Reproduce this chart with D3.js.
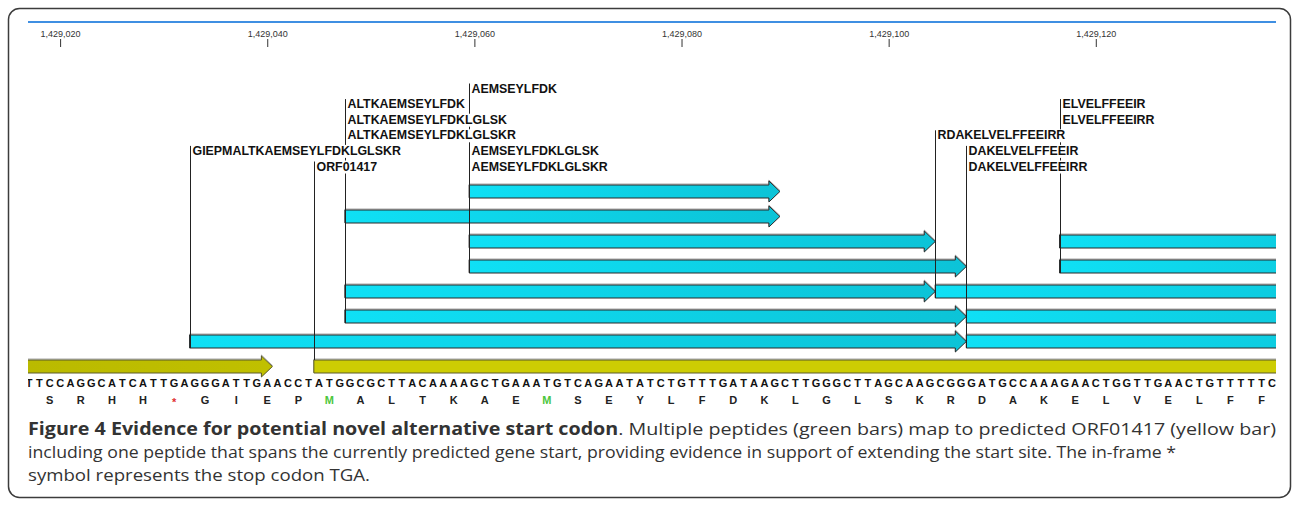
<!DOCTYPE html>
<html>
<head>
<meta charset="utf-8">
<script src="https://cdn.jsdelivr.net/npm/d3@7"></script>
<style>
  body { margin: 0; background: #fff; }
  svg { display: block; }
</style>
</head>
<body>
<svg id="chart" width="1292" height="505"></svg>
<script>
// ---- genomic window and ruler ----
const viewStart = 1429016.9;
const viewEnd = 1429137.4;
const tickValues = [1429020, 1429040, 1429060, 1429080, 1429100, 1429120];

// ---- nucleotide sequence (first base = seqStart) ----
const seqStart = 1429017;
const nucleotides = "TTCCAGGCATCATTGAGGGATTGAACCTATGGCGCTTACAAAAGCTGAAATGTCAGAATATCTGTTTGATAAGCTTGGGCTTAGCAAGCGGGATGCCAAAGAACTGGTTGAACTGTTTTTC";

// ---- translation in the ORF frame (first codon starts at frameStart) ----
const frameStart = 1429018;
const aminoAcids = ["S","R","H","H","*","G","I","E","P","M","A","L","T","K","A","E","M","S","E","Y",
                    "L","F","D","K","L","G","L","S","K","R","D","A","K","E","L","V","E","L","F","F"];

// ---- mapped peptides ----
const peptideNames = [
  "AEMSEYLFDK", "ALTKAEMSEYLFDK", "ALTKAEMSEYLFDKLGLSK", "ALTKAEMSEYLFDKLGLSKR",
  "AEMSEYLFDKLGLSK", "AEMSEYLFDKLGLSKR", "GIEPMALTKAEMSEYLFDKLGLSKR",
  "RDAKELVELFFEEIRR", "DAKELVELFFEEIR", "DAKELVELFFEEIRR", "ELVELFFEEIR", "ELVELFFEEIRR"
];
const peptideStarts = [1429060, 1429048, 1429048, 1429048, 1429060, 1429060, 1429033,
                       1429105, 1429108, 1429108, 1429117, 1429117];
const peptideEnds   = [1429089, 1429089, 1429104, 1429107, 1429104, 1429107, 1429107,
                       1429152, 1429149, 1429152, 1429149, 1429152];
const peptideTracks = [0, 1, 4, 5, 2, 3, 6, 4, 5, 6, 2, 3];
const peptideLabelRows = [0, 1, 2, 3, 4, 5, 4, 3, 4, 5, 1, 2];

// ---- gene models ----
const geneNames = ["", "ORF01417"];
const geneStarts = [1428990, 1429045];
const geneEnds = [1429040, 1429170];
const geneLabelRows = [-1, 5];

// ---- caption ----
const captionLines = [
  [["Figure 4 Evidence for potential novel alternative start codon", true],
   [". Multiple peptides (green bars) map to predicted ORF01417 (yellow bar)", false]],
  [["including one peptide that spans the currently predicted gene start, providing evidence in support of extending the start site. The in-frame *", false]],
  [["symbol represents the stop codon TGA.", false]]
];

// ================= drawing =================
const svg = d3.select("#chart");
const defs = svg.append("defs");

const left = 28, right = 1276;
const x = d3.scaleLinear().domain([viewStart, viewEnd]).range([left, right]);

// frame around figure and caption
svg.append("rect")
  .attr("x", 8.5).attr("y", 8.5).attr("width", 1282).attr("height", 489)
  .attr("rx", 11).attr("fill", "none").attr("stroke", "#3c3c3c").attr("stroke-width", 1.5);

defs.append("clipPath").attr("id", "track-clip")
  .append("rect").attr("x", left).attr("y", 0).attr("width", right - left).attr("height", 505);

const peptideGrad = defs.append("linearGradient").attr("id", "pep-grad")
  .attr("x1", 0).attr("x2", 1).attr("y1", 0).attr("y2", 0);
peptideGrad.append("stop").attr("offset", 0).attr("stop-color", "#0fe0f5");
peptideGrad.append("stop").attr("offset", 1).attr("stop-color", "#0cc3d7");

const upGrad = defs.append("linearGradient").attr("id", "up-grad")
  .attr("x1", 0).attr("x2", 1).attr("y1", 0).attr("y2", 0);
upGrad.append("stop").attr("offset", 0).attr("stop-color", "#b3b300");
upGrad.append("stop").attr("offset", 1).attr("stop-color", "#c0c000");

// ruler
svg.append("line")
  .attr("x1", left).attr("x2", right).attr("y1", 22).attr("y2", 22)
  .attr("stroke", "#3f8fe2").attr("stroke-width", 2);

const axis = d3.axisTop(x)
  .tickValues(tickValues)
  .tickFormat(d3.format(","))
  .tickSize(8)
  .tickSizeOuter(0)
  .tickPadding(2);
const axisG = svg.append("g").attr("transform", "translate(0,47)").call(axis);
axisG.select(".domain").remove();
axisG.selectAll(".tick line").attr("stroke", "#333");
axisG.selectAll(".tick text")
  .attr("fill", "#333").style("font-family", "'Liberation Sans', Arial, sans-serif").style("font-size", "9px");

// track geometry
const trackTop = 185, trackStep = 25, barH = 13, headLen = 11, headOut = 4;
const labelBase = 92.5, labelStep = 15.6;
const geneTop = 360;

function arrowPath(x0, x1, yTop, h) {
  const xb = x1 - headLen;
  const yMid = yTop + h / 2;
  return `M${x0},${yTop}H${xb}V${yTop - headOut}L${x1},${yMid}L${xb},${yTop + h + headOut}V${yTop + h}H${x0}Z`;
}

const peptides = peptideNames.map((name, i) => ({
  name,
  x0: x(peptideStarts[i] - 0.5),
  x1: x(peptideEnds[i] + 0.5),
  top: trackTop + trackStep * peptideTracks[i],
  labelY: labelBase + labelStep * peptideLabelRows[i]
}));

const clipped = svg.append("g").attr("clip-path", "url(#track-clip)");

// soft grey edge above each peptide bar
clipped.append("g").selectAll("path")
  .data(peptides).join("path")
  .attr("d", d => arrowPath(d.x0, d.x1, d.top - 1, barH))
  .attr("fill", "none")
  .attr("stroke", "#a8a8a8").attr("stroke-width", 1);

// peptide bars
clipped.append("g").selectAll("path")
  .data(peptides).join("path")
  .attr("d", d => arrowPath(d.x0, d.x1, d.top, barH))
  .attr("fill", "url(#pep-grad)")
  .attr("stroke", "#2b2b2b").attr("stroke-width", 1);

// gene bars
const genes = geneNames.map((name, i) => ({
  name,
  x0: x(geneStarts[i] - 0.5),
  x1: x(geneEnds[i] + 0.5),
  labelY: geneLabelRows[i] >= 0 ? labelBase + labelStep * geneLabelRows[i] : null
}));
clipped.append("g").selectAll("path")
  .data(genes).join("path")
  .attr("d", d => arrowPath(d.x0, d.x1, geneTop - 1, barH))
  .attr("fill", "none")
  .attr("stroke", "#a8a8a8").attr("stroke-width", 1);
clipped.append("g").selectAll("path")
  .data(genes).join("path")
  .attr("d", d => arrowPath(d.x0, d.x1, geneTop, barH))
  .attr("fill", (d, i) => i === 0 ? "url(#up-grad)" : "#cdcd03")
  .attr("stroke", "#5a5a2a").attr("stroke-width", 1);

// connector lines from labels down to their bars
const px = v => Math.round(v) + 0.5;
const connectors = peptides.map(d => ({ x: px(d.x0), y1: d.labelY - 9, y2: d.top + barH }))
  .concat(genes.filter(g => g.labelY !== null).map(g => ({ x: px(g.x0), y1: g.labelY - 9, y2: geneTop })));
svg.append("g").selectAll("line")
  .data(connectors).join("line")
  .attr("x1", d => d.x).attr("x2", d => d.x)
  .attr("y1", d => d.y1).attr("y2", d => d.y2)
  .attr("stroke", "#222").attr("stroke-width", 1);

// labels on white backing
const labels = peptides.map(d => ({ name: d.name, x: px(d.x0), y: d.labelY }))
  .concat(genes.filter(g => g.labelY !== null).map(g => ({ name: g.name, x: px(g.x0), y: g.labelY })));
const labelG = svg.append("g").selectAll("g").data(labels).join("g");
labelG.append("rect").attr("fill", "#fff");
labelG.append("text")
  .attr("x", d => d.x + 2).attr("y", d => d.y)
  .attr("fill", "#111")
  .style("font-family", "'Liberation Sans', Arial, sans-serif")
  .style("font-weight", "bold").style("font-size", "12.4px")
  .text(d => d.name);
labelG.each(function () {
  const g = d3.select(this);
  const bb = g.select("text").node().getBBox();
  g.select("rect").attr("x", bb.x).attr("y", bb.y + 1).attr("width", bb.width + 1).attr("height", bb.height - 1);
});

// nucleotide sequence
const seqG = svg.append("g").attr("clip-path", "url(#track-clip)");
seqG.selectAll("text.nt")
  .data(nucleotides.split("")).join("text")
  .attr("class", "nt")
  .attr("x", (d, i) => x(seqStart + i)).attr("y", 387)
  .attr("text-anchor", "middle").attr("fill", "#111")
  .style("font-family", "'Liberation Sans', Arial, sans-serif")
  .style("font-weight", "bold").style("font-size", "11px")
  .text(d => d);

// amino-acid translation
const aaColor = a => a === "*" ? "#e03030" : a === "M" ? "#4cc63c" : "#222";
seqG.selectAll("text.aa")
  .data(aminoAcids).join("text")
  .attr("class", "aa")
  .attr("x", (d, i) => x(frameStart + 3 * i + 1)).attr("y", d => d === "*" ? 406 : 403.5)
  .attr("text-anchor", "middle").attr("fill", aaColor)
  .style("font-family", "'Liberation Sans', Arial, sans-serif")
  .style("font-weight", "bold").style("font-size", "11px")
  .text(d => d);

// caption
const capBase = [435, 458, 481];
const capEnd = [1276, 1176, 370];
const capFont = "'Open Sans', 'Noto Sans', sans-serif";
captionLines.forEach((parts, li) => {
  const t = svg.append("text")
    .attr("x", left).attr("y", capBase[li])
    .attr("fill", "#333")
    .style("font-family", capFont).style("font-size", "17px");
  parts.forEach(([str, bold]) => {
    t.append("tspan").style("font-weight", bold ? "bold" : "normal").text(str);
  });
  t.attr("textLength", capEnd[li] - left).attr("lengthAdjust", "spacingAndGlyphs");
});
</script>
</body>
</html>
